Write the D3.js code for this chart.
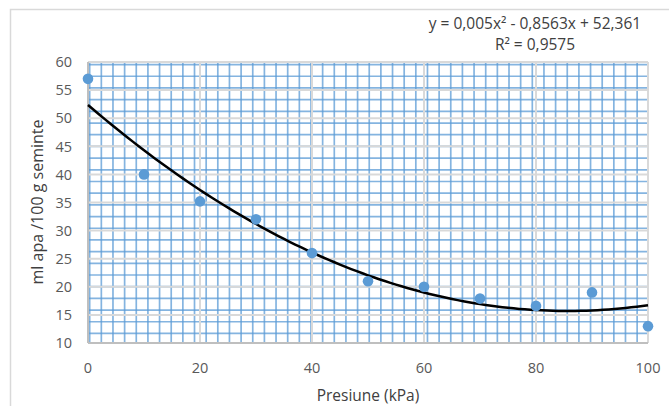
<!DOCTYPE html>
<html>
<head>
<meta charset="utf-8">
<script src="https://cdn.jsdelivr.net/npm/d3@7"></script>
<style>
  body { margin: 0; background: #fff; }
  text { font-family: "Open Sans", "Liberation Sans", sans-serif; }
  .tick-label { fill: #595959; font-size: 14.5px; }
  .title { fill: #404040; font-size: 15.5px; }
</style>
</head>
<body>
<script>
// measured data (pressure kPa vs ml water / 100 g seeds)
var pressure = [0, 10, 20, 30, 40, 50, 60, 70, 80, 90, 100];
var water = [57, 40, 35.2, 32, 26, 21, 20, 17.9, 16.6, 19, 13];

// trendline y = a*x^2 + b*x + c (as printed on the chart)
var trendCoef = [0.005, -0.8563, 52.361];
var equationLines = ["y = 0,005x\u00b2 - 0,8563x + 52,361", "R\u00b2 = 0,9575"];

var xTicks = [0, 20, 40, 60, 80, 100];
var yTicks = [10, 15, 20, 25, 30, 35, 40, 45, 50, 55, 60];

var margin = {top: 62, right: 21, bottom: 63, left: 88},
    width = 669 - margin.left - margin.right,
    height = 406 - margin.top - margin.bottom;

var x = d3.scaleLinear().domain([0, 100]).range([0, width]);
var y = d3.scaleLinear().domain([10, 60]).range([height, 0]);

var root = d3.select("body").append("svg")
    .attr("width", 669)
    .attr("height", 406);

// chart border
root.append("rect")
    .attr("x", 10.5).attr("y", 9.5)
    .attr("width", 700).attr("height", 420)
    .attr("fill", "none")
    .attr("stroke", "#d9d9d9")
    .attr("stroke-width", 1.5);

var svg = root.append("g")
    .attr("transform", "translate(" + margin.left + "," + margin.top + ")");

// graph-paper background (blue minor grid)
var minorX = d3.range(0.3, 100, 2.08);
var minorY = d3.range(11.7, 60, 2.08);

svg.selectAll(".minor-x")
    .data(minorX)
  .enter().append("line")
    .attr("x1", function(d) { return x(d); })
    .attr("x2", function(d) { return x(d); })
    .attr("y1", 0).attr("y2", height)
    .attr("stroke", "#5b9bd5")
    .attr("stroke-opacity", 0.75)
    .attr("stroke-width", 1.7);

svg.selectAll(".minor-y")
    .data(minorY)
  .enter().append("line")
    .attr("y1", function(d) { return y(d); })
    .attr("y2", function(d) { return y(d); })
    .attr("x1", 0).attr("x2", width)
    .attr("stroke", "#5b9bd5")
    .attr("stroke-opacity", 0.75)
    .attr("stroke-width", 1.7);

// major gridlines (gray)
svg.selectAll(".major-x")
    .data(xTicks.slice(1))
  .enter().append("line")
    .attr("x1", function(d) { return x(d); })
    .attr("x2", function(d) { return x(d); })
    .attr("y1", 0).attr("y2", height)
    .attr("stroke", "#d9d9d9")
    .attr("stroke-width", 2);

svg.selectAll(".major-y")
    .data(yTicks.slice(1))
  .enter().append("line")
    .attr("y1", function(d) { return y(d); })
    .attr("y2", function(d) { return y(d); })
    .attr("x1", 0).attr("x2", width)
    .attr("stroke", "#d9d9d9")
    .attr("stroke-width", 2);

// axes lines
svg.append("line")
    .attr("x1", 0).attr("x2", width)
    .attr("y1", height).attr("y2", height)
    .attr("stroke", "#bfbfbf").attr("stroke-width", 2);
svg.append("line")
    .attr("x1", 0).attr("x2", 0)
    .attr("y1", 0).attr("y2", height)
    .attr("stroke", "#bfbfbf").attr("stroke-width", 2);

// tick labels
svg.selectAll(".xlab")
    .data(xTicks)
  .enter().append("text")
    .attr("class", "tick-label")
    .attr("text-anchor", "middle")
    .attr("x", function(d) { return x(d); })
    .attr("y", height + 30)
    .text(function(d) { return d; });

svg.selectAll(".ylab")
    .data(yTicks)
  .enter().append("text")
    .attr("class", "tick-label")
    .attr("text-anchor", "end")
    .attr("x", -16)
    .attr("y", function(d) { return y(d); })
    .attr("dy", "0.36em")
    .text(function(d) { return d; });

// trendline
var trend = d3.range(0, 100.5, 1).map(function(v) {
  return [v, trendCoef[0] * v * v + trendCoef[1] * v + trendCoef[2]];
});
svg.append("path")
    .datum(trend)
    .attr("fill", "none")
    .attr("stroke", "#000")
    .attr("stroke-width", 2.5)
    .attr("d", d3.line()
                 .x(function(d) { return x(d[0]); })
                 .y(function(d) { return y(d[1]); }));

// points
svg.selectAll(".pt")
    .data(pressure)
  .enter().append("circle")
    .attr("cx", function(d) { return x(d); })
    .attr("cy", function(d, i) { return y(water[i]); })
    .attr("r", 5.3)
    .attr("fill", "#5b9bd5");

// axis titles
root.append("text")
    .attr("class", "title")
    .attr("text-anchor", "middle")
    .attr("x", 368)
    .attr("y", 401)
    .text("Presiune (kPa)");

root.append("text")
    .attr("class", "title")
    .attr("text-anchor", "middle")
    .style("font-size", "16px")
    .attr("transform", "translate(43,202) rotate(-90)")
    .text("ml apa /100 g seminte");

// equation label
root.selectAll(".eq")
    .data(equationLines)
  .enter().append("text")
    .attr("class", "title")
    .attr("text-anchor", "middle")
    .attr("x", 535)
    .attr("y", function(d, i) { return 29 + i * 21; })
    .text(function(d) { return d; });
</script>
</body>
</html>
